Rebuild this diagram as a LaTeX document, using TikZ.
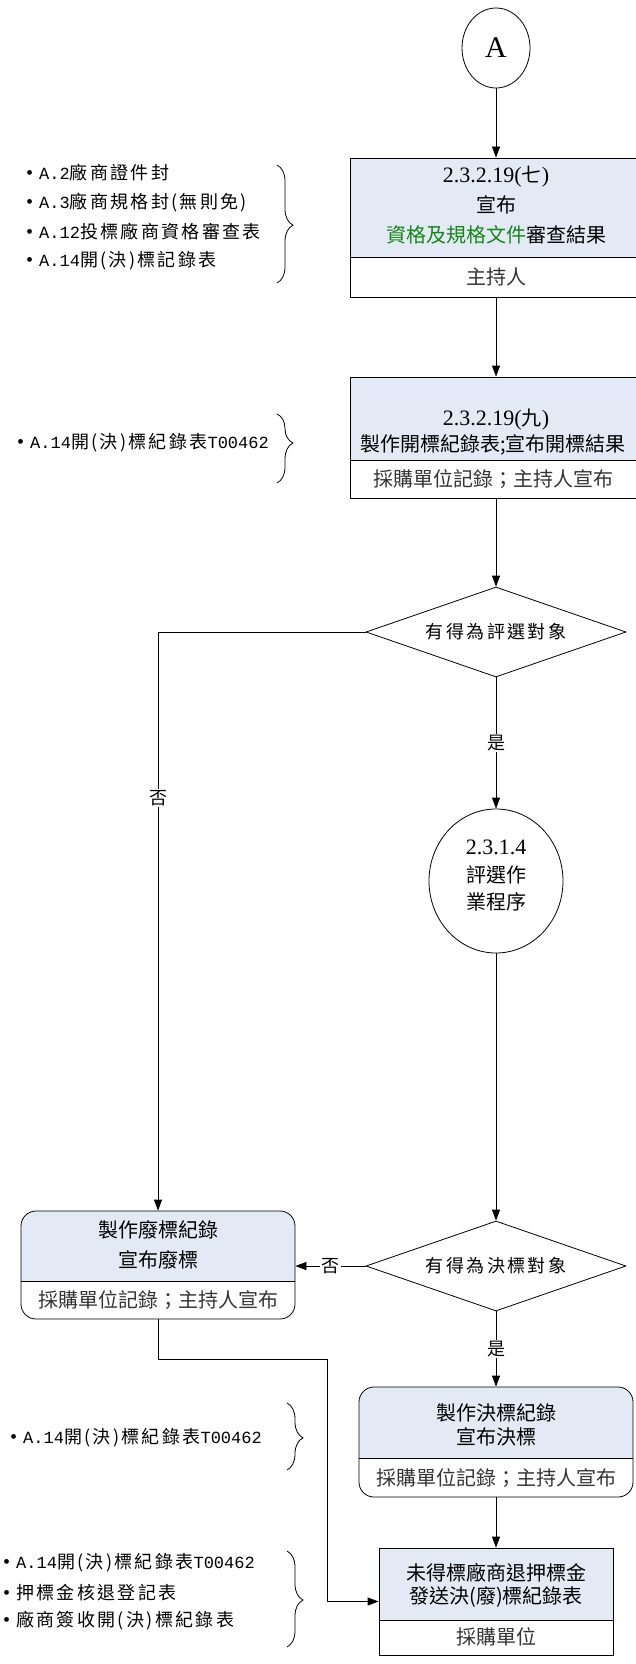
\documentclass[tikz,border=0pt]{standalone}
\usepackage{fontspec}
\setmainfont{Noto Sans CJK TC}
\newfontfamily\lat{Liberation Serif}
\newfontfamily\latmono{Liberation Mono}
\newfontfamily\bulfont[LetterSpace=13]{Noto Sans CJK TC}
\newcommand{\bdot}{{\lat\fontsize{20}{22}\selectfont •}\hspace{6pt}}
\newcommand{\nm}[1]{{\lat\fontsize{22}{24}\selectfont #1}}
\newcommand{\bl}[1]{{\latmono\fontsize{17}{22}\selectfont #1}}
\usetikzlibrary{arrows.meta,shapes.geometric,decorations.pathreplacing}
\definecolor{topfill}{RGB}{228,234,245}
\definecolor{docgreen}{RGB}{20,135,20}
\begin{document}
\begin{tikzpicture}[x=1pt,y=-1pt,
  line/.style={draw=black, line width=0.8pt},
  arr/.style={line, -{Triangle[length=11pt,width=8pt]}},
  boxfr/.style={draw, line width=0.8pt, inner sep=0},
  boxtxt/.style={font=\fontsize{20}{24}\selectfont, inner sep=0, anchor=center},
  subtxt/.style={font=\fontsize{20}{24}\selectfont, inner sep=0, anchor=center, text=black!80},
  bul/.style={font=\bulfont\fontsize{18}{22}\selectfont, anchor=west, inner sep=0},
  lbl/.style={font=\bulfont\fontsize{18}{22}\selectfont, fill=white, inner sep=1.5pt},
  dia/.style={diamond, draw, line width=0.8pt, minimum width=260pt, minimum height=90pt, aspect=2.9, inner sep=0, font=\bulfont\fontsize{18}{22}\selectfont},
  brc/.style={draw, line width=0.8pt, decorate, decoration={brace, amplitude=16pt, aspect=#1}},
]
\useasboundingbox (0,0) rectangle (636,1664);

% start connector
\node[ellipse, draw, line width=0.8pt, minimum width=68pt, minimum height=80pt, inner sep=0, font=\lat\fontsize{30}{30}\selectfont] (A) at (496,48) {A};

% box 1
\fill[topfill] (350,158) rectangle (642,257);
\node[boxfr, minimum width=292pt, minimum height=139pt] (b1) at (496,227.5) {};
\draw[line] (350,257) -- (642,257);
\node[boxtxt] (b1t1) at (496,177) {\nm{2.3.2.19(}七\nm{)}};
\node[boxtxt] (b1t2) at (496,205) {宣布};
\node[boxtxt] (b1t3) at (496,235) {\textcolor{docgreen}{資格及規格文件}審查結果};
\node[subtxt] (b1t4) at (496,277) {主持人};

% box 2
\fill[topfill] (350,377) rectangle (642,460);
\node[boxfr, minimum width=292pt, minimum height=121pt] (b2) at (496,437.5) {};
\draw[line] (350,460) -- (642,460);
\node[boxtxt] (b2t1) at (496,420) {\nm{2.3.2.19(}九\nm{)}};
\node[boxtxt] (b2t2) at (493,445) {製作開標紀錄表;宣布開標結果};
\node[subtxt] (b2t3) at (493,479) {採購單位記錄；主持人宣布};

% decision 1
\node[dia] (d1) at (496,632) {有得為評選對象};

% sub-process ellipse
\node[ellipse, draw, line width=0.8pt, minimum width=134pt, minimum height=144pt, inner sep=0] (e1) at (496,881) {};
\node[boxtxt] (e1t1) at (496,847) {\nm{2.3.1.4}};
\node[boxtxt] (e1t2) at (496,875) {評選作};
\node[boxtxt] (e1t3) at (496,902) {業程序};

% decision 2
\node[dia] (d2) at (496,1266) {有得為決標對象};

% box 3 (cancel)
\begin{scope}
\clip[rounded corners=15pt] (21,1211) rectangle (295,1319);
\fill[topfill] (21,1211) rectangle (295,1281);
\end{scope}
\node[boxfr, rounded corners=15pt, minimum width=274pt, minimum height=108pt] (b3) at (158,1265) {};
\draw[line] (21,1281) -- (295,1281);
\node[boxtxt] (b3t1) at (158,1230) {製作廢標紀錄};
\node[boxtxt] (b3t2) at (158,1260) {宣布廢標};
\node[subtxt] (b3t3) at (158,1300) {採購單位記錄；主持人宣布};

% box 4 (award)
\begin{scope}
\clip[rounded corners=15pt] (359,1387) rectangle (633,1497);
\fill[topfill] (359,1387) rectangle (633,1458);
\end{scope}
\node[boxfr, rounded corners=15pt, minimum width=274pt, minimum height=110pt] (b4) at (496,1442) {};
\draw[line] (359,1458) -- (633,1458);
\node[boxtxt] (b4t1) at (496,1413) {製作決標紀錄};
\node[boxtxt] (b4t2) at (496,1437) {宣布決標};
\node[subtxt] (b4t3) at (496,1478) {採購單位記錄；主持人宣布};

% final box
\fill[topfill] (379,1548) rectangle (613,1620);
\node[boxfr, minimum width=234pt, minimum height=107pt] (fb) at (496,1601.5) {};
\draw[line] (379,1620) -- (613,1620);
\node[boxtxt] (fbt1) at (496,1573) {未得標廠商退押標金};
\node[boxtxt] (fbt2) at (496,1597) {發送決(廢)標紀錄表};
\node[subtxt] (fbt3) at (496,1637) {採購單位};

% connectors
\draw[arr] (A) -- (b1);
\draw[arr] (b1) -- (b2);
\draw[arr] (b2) -- (d1);
\draw[arr] (d1) -- (e1) node[lbl, pos=0.5] {是};
\draw[arr] (d1.west) -| (b3.north);
\node[lbl] (no1) at (158,798) {否};
\draw[arr] (e1) -- (d2);
\draw[arr] (d2.west) -- (b3.east |- d2.west) node[lbl, midway] {否};
\draw[arr] (d2) -- (b4) node[lbl, midway] {是};
\draw[arr] (b4) -- (fb);
\coordinate (j1) at (327,1359);
\draw[arr] (b3.south) |- (j1) |- (fb.west);

% document lists
\node[bul] (l1a) at (26,173) {\bdot\bl{A.2}廠商證件封};
\node[bul] (l1b) at (26,203) {\bdot\bl{A.3}廠商規格封(無則免)};
\node[bul] (l1c) at (26,232) {\bdot\bl{A.12}投標廠商資格審查表};
\node[bul] (l1d) at (26,261) {\bdot\bl{A.14}開(決)標記錄表};
\draw[brc=0.51] (277,165) -- (277,283);

\node[bul] (l2a) at (17,443) {\bdot\bl{A.14}開(決)標紀錄表\bl{T00462}};
\draw[brc=0.42] (277,414) -- (277,483);

\node[bul] (l3a) at (10,1438) {\bdot\bl{A.14}開(決)標紀錄表\bl{T00462}};
\draw[brc=0.52] (287,1403) -- (287,1470);

\node[bul] (l4a) at (3,1563) {\bdot\bl{A.14}開(決)標紀錄表\bl{T00462}};
\node[bul] (l4b) at (3,1593) {\bdot 押標金核退登記表};
\node[bul] (l4c) at (3,1621) {\bdot 廠商簽收開(決)標紀錄表};
\draw[brc=0.51] (287,1551) -- (287,1647);
\end{tikzpicture}
\end{document}
